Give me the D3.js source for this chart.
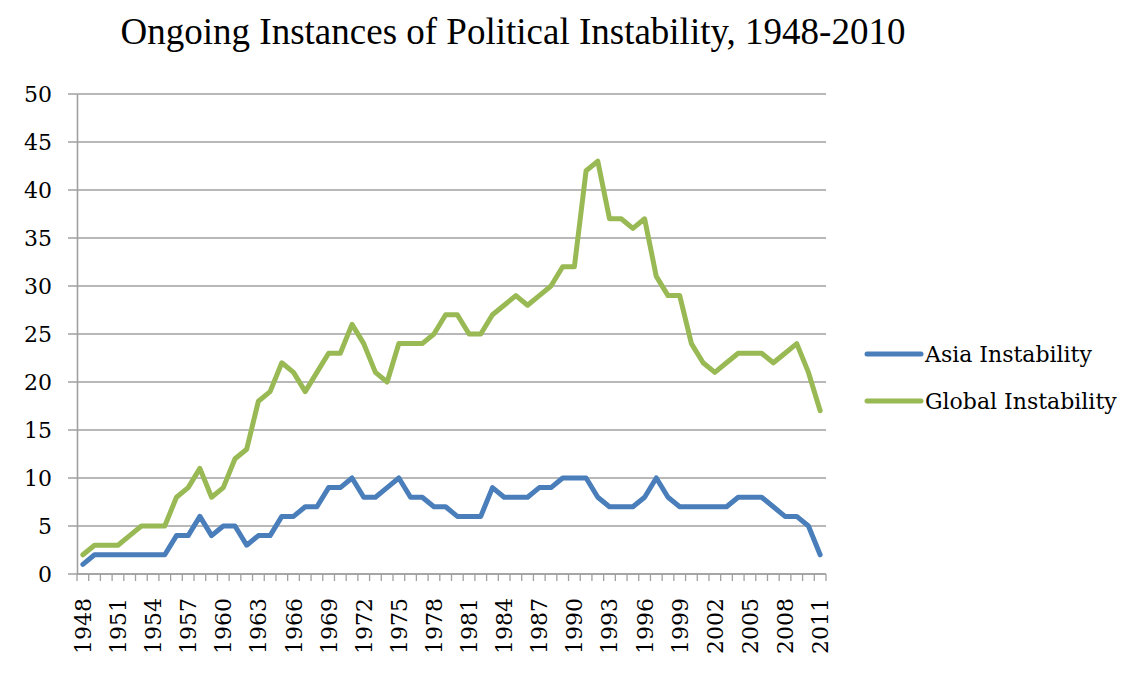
<!DOCTYPE html>
<html>
<head>
<meta charset="utf-8">
<script src="https://cdnjs.cloudflare.com/ajax/libs/d3/7.8.5/d3.min.js"></script>
<style>
  body { margin: 0; background: #fff; }
  .title { font-family: "Liberation Serif", "Times New Roman", serif; font-size: 37px; fill: #000; }
  .tick text { font-family: "DejaVu Serif", serif; font-size: 22px; fill: #000; }
  .legend text { font-family: "DejaVu Serif", serif; font-size: 22px; fill: #000; }
</style>
</head>
<body>
<div class="chart"></div>
<script>
var years = d3.range(1948, 2012);

var asia = [1, 2, 2, 2, 2, 2, 2, 2, 4, 4, 6, 4, 5, 5, 3, 4,
            4, 6, 6, 7, 7, 9, 9, 10, 8, 8, 9, 10, 8, 8, 7, 7,
            6, 6, 6, 9, 8, 8, 8, 9, 9, 10, 10, 10, 8, 7, 7, 7,
            8, 10, 8, 7, 7, 7, 7, 7, 8, 8, 8, 7, 6, 6, 5, 2];

var global = [2, 3, 3, 3, 4, 5, 5, 5, 8, 9, 11, 8, 9, 12, 13, 18,
              19, 22, 21, 19, 21, 23, 23, 26, 24, 21, 20, 24, 24, 24, 25, 27,
              27, 25, 25, 27, 28, 29, 28, 29, 30, 32, 32, 42, 43, 37, 37, 36,
              37, 31, 29, 29, 24, 22, 21, 22, 23, 23, 23, 22, 23, 24, 21, 17];

var yTicks = [0, 5, 10, 15, 20, 25, 30, 35, 40, 45, 50];
var seriesNames = ["Asia Instability", "Global Instability"];
var colors = ["#4a7ebb", "#98b954"];

var width = 1123, height = 681;
var margin = { left: 77, right: 297, top: 94, bottom: 107 };

var svg = d3.select(".chart").append("svg")
    .attr("width", width)
    .attr("height", height);

svg.append("text")
    .attr("class", "title")
    .attr("x", 513)
    .attr("y", 44)
    .attr("text-anchor", "middle")
    .text("Ongoing Instances of Political Instability, 1948-2010");

var x = d3.scaleBand()
    .domain(years)
    .range([margin.left, width - margin.right]);

var y = d3.scaleLinear()
    .domain([0, 50])
    .range([height - margin.bottom, margin.top]);

// gridlines
svg.append("g")
  .selectAll("line")
  .data(yTicks)
  .enter().append("line")
    .attr("x1", margin.left - 9)
    .attr("x2", width - margin.right)
    .attr("y1", function(d) { return y(d); })
    .attr("y2", function(d) { return y(d); })
    .attr("stroke", "#a0a0a0")
    .attr("stroke-width", 1.6);

// y axis
var yAxis = svg.append("g")
    .attr("transform", "translate(" + margin.left + ",0)")
    .call(d3.axisLeft(y).tickValues(yTicks).tickSize(0).tickPadding(25));
yAxis.select(".domain").attr("stroke", "#a0a0a0").attr("stroke-width", 1.6);

// x axis: ticks at category boundaries
var xAxisY = y(0);
svg.append("line")
    .attr("x1", margin.left)
    .attr("x2", width - margin.right)
    .attr("y1", xAxisY)
    .attr("y2", xAxisY)
    .attr("stroke", "#a0a0a0")
    .attr("stroke-width", 1.6);

svg.append("g")
  .selectAll("line")
  .data(years.concat([2012]))
  .enter().append("line")
    .attr("x1", function(d) { return d === 2012 ? width - margin.right : x(d); })
    .attr("x2", function(d) { return d === 2012 ? width - margin.right : x(d); })
    .attr("y1", xAxisY)
    .attr("y2", xAxisY + 7)
    .attr("stroke", "#a0a0a0")
    .attr("stroke-width", 1.3);

svg.append("g").attr("class", "tick")
  .selectAll("text")
  .data(years.filter(function(d) { return (d - 1948) % 3 === 0; }))
  .enter().append("text")
    .attr("transform", function(d) {
      return "translate(" + (x(d) + x.bandwidth() / 2 + 8) + "," + (xAxisY + 24) + ") rotate(-90)";
    })
    .attr("text-anchor", "end")
    .text(function(d) { return d; });

// lines
var line = d3.line()
    .x(function(d, i) { return x(years[i]) + x.bandwidth() / 2; })
    .y(function(d) { return y(d); });

[asia, global].forEach(function(s, k) {
  svg.append("path")
      .datum(s)
      .attr("fill", "none")
      .attr("stroke", colors[k])
      .attr("stroke-width", 5)
      .attr("stroke-linejoin", "round")
      .attr("stroke-linecap", "round")
      .attr("d", line);
});

// legend
var legend = svg.append("g").attr("class", "legend");
seriesNames.forEach(function(name, k) {
  var ly = 354 + k * 47;
  legend.append("line")
      .attr("x1", 867).attr("x2", 921)
      .attr("y1", ly).attr("y2", ly)
      .attr("stroke", colors[k])
      .attr("stroke-width", 5)
      .attr("stroke-linecap", "round");
  legend.append("text")
      .attr("x", 925)
      .attr("y", ly + 8)
      .text(name);
});
</script>
</body>
</html>
